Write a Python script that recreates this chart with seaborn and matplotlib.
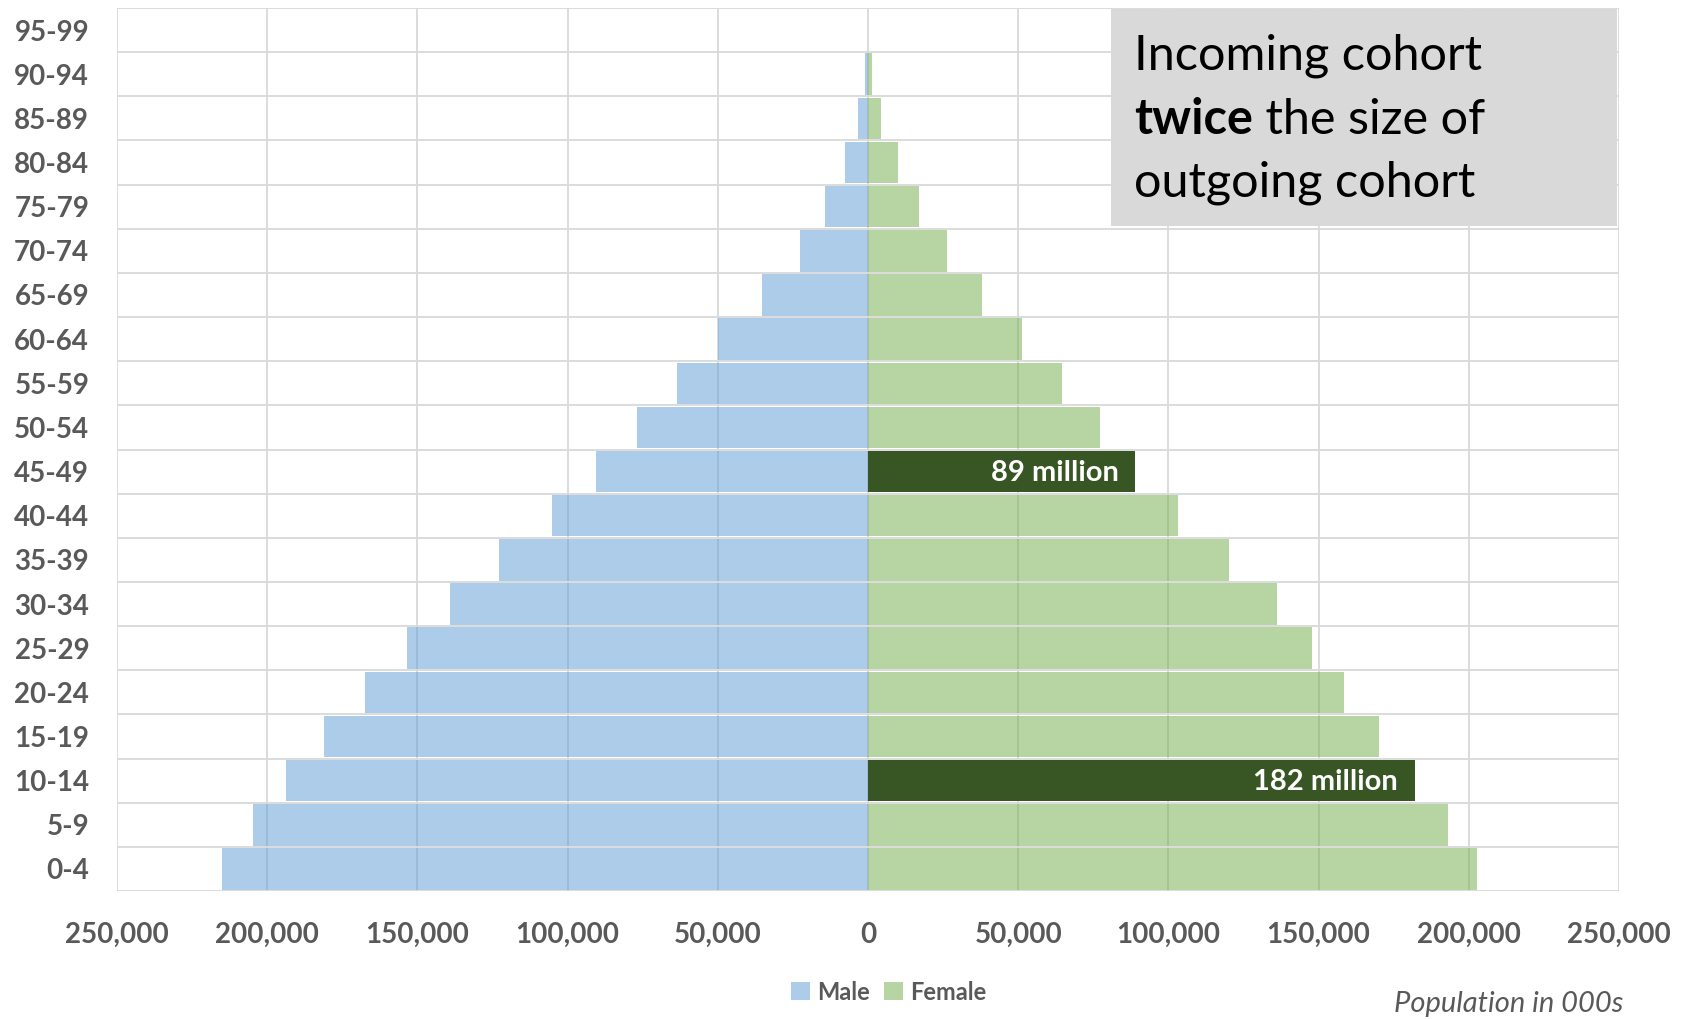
import numpy as np
import pandas as pd
import matplotlib
matplotlib.use("Agg")
import matplotlib.pyplot as plt
import seaborn as sns
from matplotlib.patches import Rectangle, Patch
from matplotlib.text import Annotation
from matplotlib.ticker import FuncFormatter

# ---- data (thousands) ----
ages = ["95-99", "90-94", "85-89", "80-84", "75-79", "70-74", "65-69", "60-64",
        "55-59", "50-54", "45-49", "40-44", "35-39", "30-34", "25-29", "20-24",
        "15-19", "10-14", "5-9", "0-4"]
male = [100, 1000, 3300, 7700, 14200, 22600, 35200, 49900, 63500, 76800,
        90700, 105100, 122700, 139200, 153500, 167500, 181100, 193700, 204800, 215200]
female = [150, 1400, 4300, 10000, 17000, 26200, 38000, 51300, 64600, 77100,
          89000, 103300, 120200, 136000, 147800, 158500, 170000, 182000, 193000, 202700]
highlight = ["45-49", "10-14"]
highlight_labels = ["89 million", "182 million"]
xticks = [-250000, -200000, -150000, -100000, -50000, 0, 50000, 100000, 150000, 200000, 250000]

df = pd.DataFrame({"age": ages, "male": [-v for v in male], "female": female})

sns.set_theme(style="white")
plt.rcParams["font.family"] = ["Lato", "DejaVu Sans"]

MALE_C = "#5B9BD5"
FEMALE_C = "#70AD47"
DARK_G = "#375623"
GRID_C = "#D9D9D9"
TXT_C = "#595959"

fig = plt.figure(figsize=(16.9, 10.19), dpi=100)
ax = fig.add_axes([117/1690, 1-891/1019, (1619-117)/1690, (891-8)/1019])

sns.barplot(data=df, x="male", y="age", order=ages, orient="h", color=MALE_C,
            width=0.94, ax=ax, saturation=1)
fem_pal = {a: (DARK_G if a in highlight else FEMALE_C) for a in ages}
sns.barplot(data=df, x="female", y="age", hue="age", order=ages, hue_order=ages,
            orient="h", palette=fem_pal, width=0.94, dodge=False, legend=False,
            ax=ax, saturation=1)

hl_idx = [ages.index(a) for a in highlight]
for p in ax.patches:
    w = p.get_width()
    yc = p.get_y() + p.get_height() / 2
    idx = int(round(yc))
    if w > 0 and idx in hl_idx:
        p.set_alpha(1.0)
    else:
        p.set_alpha(0.5)
    p.set_linewidth(0)

# labels inside highlighted bars
for a, lab in zip(highlight, highlight_labels):
    i = ages.index(a)
    val = female[i]
    ax.annotate(lab, xy=(val, i), xytext=(-12, -1), textcoords="offset points",
                ha="right", va="center", color="white", fontsize=21,
                fontweight="bold")

ax.set_xlim(-250000, 250000)
ax.set_ylim(len(ages) - 0.5, -0.5)
ax.set_xticks(xticks)
ax.xaxis.set_major_formatter(FuncFormatter(lambda v, p: f"{abs(int(v)):,}"))
ax.set_yticks(range(len(ages)))
ax.set_yticklabels(ages)
ax.set_yticks(np.arange(-0.5, len(ages), 1), minor=True)
ax.set_axisbelow(True)
ax.grid(True, axis="x", which="major", color=GRID_C, linewidth=1.3)
ax.grid(True, axis="y", which="minor", color=GRID_C, linewidth=1.3)
ax.grid(False, axis="y", which="major")
ax.tick_params(axis="both", which="both", length=0)
ax.tick_params(axis="y", pad=20)
ax.tick_params(axis="x", pad=22)
for lab in ax.get_xticklabels() + ax.get_yticklabels():
    lab.set_fontsize(20)
    lab.set_fontweight("bold")
    lab.set_color(TXT_C)
ax.set_xlabel("")
ax.set_ylabel("")
for s in ax.spines.values():
    s.set_visible(False)

# annotation box
fig.patches.append(Rectangle((1111/1690, 1-226/1019), (1617-1111)/1690, (226-9)/1019,
                             transform=fig.transFigure, facecolor="#D9D9D9",
                             edgecolor="none", zorder=5))
bx = 1134/1690
fs_box = 35
fig.text(bx, 1-56/1019, "Incoming cohort", fontsize=fs_box, color="black",
         ha="left", va="center", zorder=6)
t_bold = fig.text(bx, 1-119/1019, "twice", fontsize=fs_box, fontweight="bold",
                  color="black", ha="left", va="center", zorder=6)
rest = Annotation(" the size of", xy=(1, 0), xycoords=t_bold, ha="left", va="bottom",
                  fontsize=fs_box, color="black", annotation_clip=False)
rest.set_zorder(6)
fig.add_artist(rest)
fig.text(bx, 1-183/1019, "outgoing cohort", fontsize=fs_box, color="black",
         ha="left", va="center", zorder=6)

# legend
handles = [Patch(facecolor=MALE_C, alpha=0.5, edgecolor="none", label="Male"),
           Patch(facecolor=FEMALE_C, alpha=0.5, edgecolor="none", label="Female")]
leg = fig.legend(handles=handles, loc="center", bbox_to_anchor=(889/1690, 1-992/1019),
                 ncol=2, frameon=False, handlelength=0.8, handleheight=0.8,
                 handletextpad=0.3, columnspacing=0.6,
                 prop={"family": ["Lato", "DejaVu Sans"], "weight": "bold", "size": 17})
for t in leg.get_texts():
    t.set_color(TXT_C)

fig.text(1394/1690, 1-1004/1019, "Population in 000s", fontsize=21, style="italic",
         color=TXT_C, ha="left", va="center")

fig.savefig("out.png", dpi=100, facecolor="white")
